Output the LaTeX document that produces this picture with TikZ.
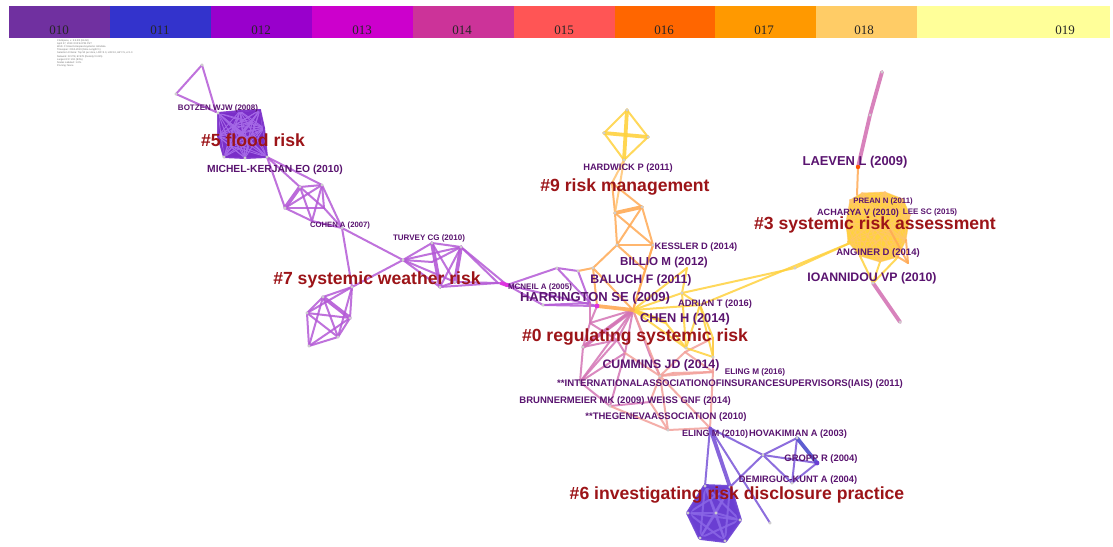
\documentclass[tikz,border=0pt]{standalone}
\usepackage{fontspec}
\setmainfont{Liberation Serif}
\newfontfamily\labfont{Liberation Sans}
\definecolor{c010}{HTML}{7030A0}
\definecolor{c011}{HTML}{3333CC}
\definecolor{c012}{HTML}{9900CC}
\definecolor{c013}{HTML}{CC00CC}
\definecolor{c014}{HTML}{CC3399}
\definecolor{c015}{HTML}{FF5555}
\definecolor{c016}{HTML}{FF6600}
\definecolor{c017}{HTML}{FF9900}
\definecolor{c018}{HTML}{FFCC66}
\definecolor{c019}{HTML}{FFFF99}
\definecolor{authC}{HTML}{5A1470}
\definecolor{clusC}{HTML}{9C1418}
\definecolor{fFill}{HTML}{7A2EC8}
\definecolor{fLine}{HTML}{A468E6}
\definecolor{lavC}{HTML}{B45AD6}
\definecolor{hexFill}{HTML}{6A3ED2}
\definecolor{hexLine}{HTML}{8A66E6}
\definecolor{bluC}{HTML}{4C4CCC}
\definecolor{bpC}{HTML}{7A55D8}
\definecolor{pinkC}{HTML}{D475B5}
\definecolor{salC}{HTML}{F3A09A}
\definecolor{orC}{HTML}{FFAA55}
\definecolor{ltorC}{HTML}{FFC472}
\definecolor{yelC}{HTML}{FFD23F}
\definecolor{magC}{HTML}{E030E0}
\tikzset{
  alab/.style={font={\labfont\bfseries\fontsize{#1}{#1}\selectfont}, text=authC, inner sep=0pt},
  clab/.style={font={\labfont\bfseries\fontsize{17.6}{18}\selectfont}, text=clusC, inner sep=0pt},
  legtxt/.style={font={\fontsize{13}{13}\selectfont}, text=black!85, inner sep=0pt},
  edge/.style={draw=#1, line width=2pt, line cap=round, opacity=0.85},
  thk/.style={draw=#1, line width=3.8pt, line cap=round, opacity=0.9},
  thn/.style={draw=#1, line width=0.9pt, line cap=round},
  vtx/.style={circle, draw=#1, fill=white, line width=0.5pt, inner sep=0pt, minimum size=2.6pt}
}
\begin{document}
\begin{tikzpicture}[x=1pt, y=-1pt]
\fill[white] (0,0) rectangle (1113,546);
\useasboundingbox (0,0) rectangle (1113,546);

% ---------------- legend bar ----------------
\foreach \n/\xa/\xb/\lx in {010/9/110/59, 011/110/211/160, 012/211/312/261, 013/312/413/362, 014/413/514/462, 015/514/615/564, 016/615/715/664, 017/715/816/764, 018/816/917/864, 019/917/1110/1065}{
  \fill[c\n] (\xa,5.5) rectangle (\xb,37.5);
  \node[legtxt] (leg\n) at (\lx,30) {\n};
}

% ---------------- header text ----------------
\node[anchor=north west, align=left, inner sep=0pt, text=black!55,
      font={\labfont\fontsize{2.5}{3.2}\selectfont}] (hdr) at (57,39) {CiteSpace, v. 5.5.R2 (64-bit)\\
April 27, 2019 3:02:54 PM CST\\
WoS: C:\textbackslash Users\textbackslash citespace\textbackslash systemic risk\textbackslash data\\
Timespan: 2010-2019 (Slice Length=1)\\
Selection Criteria: Top 50 per slice, LRF=3.0, L/N=10, LBY=5, e=1.0\\
Network: N=278, E=578 (Density=0.015)\\
Largest CC: 261 (93\%)\\
Nodes Labeled: 1.0\%\\
Pruning: None};

% ---------------- coordinates ----------------
% flood cluster
\coordinate (t1) at (202,65);
\coordinate (t2) at (176,94);
\coordinate (t3) at (216,112);
\coordinate (s1) at (218,113);
\coordinate (s2) at (240,111);
\coordinate (s3) at (260,110);
\coordinate (s4) at (264,128);
\coordinate (s5) at (267,157);
\coordinate (s6) at (245,158);
\coordinate (s7) at (224,157);
\coordinate (s8) at (218,136);
\coordinate (s9) at (233,126);
\coordinate (s10) at (252,122);
\coordinate (s11) at (248,144);
\coordinate (s12) at (230,146);
\coordinate (s13) at (243,133);
% middle chain
\coordinate (m1) at (300,187);
\coordinate (m2) at (322,185);
\coordinate (m3) at (285,208);
\coordinate (m4) at (312,221);
\coordinate (m5) at (324,208);
\coordinate (co) at (342,228);
% turvey cluster
\coordinate (tv1) at (403,260);
\coordinate (tv2) at (432,243);
\coordinate (tv3) at (461,247);
\coordinate (tv4) at (440,287);
\coordinate (tv5) at (455,282);
\coordinate (tv6) at (498,283);
\coordinate (tv7) at (432,262);
% lower-left cluster
\coordinate (w1) at (352,287);
\coordinate (w2) at (323,297);
\coordinate (w3) at (307,313);
\coordinate (w4) at (350,318);
\coordinate (w5) at (338,337);
\coordinate (w6) at (309,346);
% centre
\coordinate (mc) at (507,285);
\coordinate (c1) at (557,268);
\coordinate (c2) at (578,271);
\coordinate (c3) at (543,305);
\coordinate (c4) at (590,303);
\coordinate (h) at (597,306);
\coordinate (hub) at (633,310);
% orange tower
\coordinate (ot0) at (612,183);
\coordinate (ot1) at (615,213);
\coordinate (ot2) at (642,207);
\coordinate (ot3) at (617,245);
\coordinate (ot4) at (653,245);
\coordinate (ot5) at (593,268);
\coordinate (ot6) at (645,270);
% diamond
\coordinate (d1) at (627,110);
\coordinate (d2) at (604,133);
\coordinate (d3) at (648,137);
\coordinate (d4) at (624,160);
% yellow core
\coordinate (y1) at (682,293);
\coordinate (y2) at (700,305);
\coordinate (y3) at (686,348);
\coordinate (y4) at (713,357);
\coordinate (y5) at (665,322);
\coordinate (y6) at (687,268);
% right cluster
\coordinate (r1) at (882,72);
\coordinate (r2) at (870,115);
\coordinate (r3) at (858,167);
\coordinate (r4) at (857,195);
\coordinate (r5) at (850,243);
\coordinate (r6) at (873,283);
\coordinate (r7) at (900,322);
\coordinate (r8) at (908,263);
\coordinate (r9) at (795,268);
\coordinate (b1) at (850,200);
\coordinate (b2) at (862,193);
\coordinate (b3) at (885,192);
\coordinate (b4) at (903,199);
\coordinate (b5) at (910,215);
\coordinate (b6) at (906,240);
\coordinate (b7) at (898,257);
\coordinate (b8) at (880,262);
\coordinate (b9) at (860,256);
\coordinate (b10) at (848,242);
\coordinate (b11) at (846,222);
\coordinate (b12) at (872,225);
\coordinate (b13) at (890,230);
% pink / salmon
\coordinate (p1) at (583,347);
\coordinate (p2) at (590,323);
\coordinate (p3) at (617,340);
\coordinate (p4) at (580,382);
\coordinate (p5) at (610,406);
\coordinate (p6) at (650,402);
\coordinate (p7) at (673,373);
\coordinate (p8) at (713,372);
\coordinate (p9) at (625,353);
\coordinate (p10) at (660,376);
\coordinate (p11) at (668,430);
\coordinate (p13) at (650,355);
\coordinate (p14) at (685,352);
\coordinate (p15) at (713,338);
\coordinate (el) at (710,428);
% bottom purple
\coordinate (hv1) at (763,455);
\coordinate (hv2) at (797,438);
\coordinate (hv3) at (817,463);
\coordinate (hv4) at (792,483);
\coordinate (eend) at (770,523);
\coordinate (hx1) at (705,486);
\coordinate (hx2) at (730,487);
\coordinate (hx3) at (740,520);
\coordinate (hx4) at (725,541);
\coordinate (hx5) at (700,538);
\coordinate (hx6) at (688,513);
\coordinate (hx7) at (716,513);

% ---------------- edges ----------------
% flood triangle and links
\foreach \a/\b in {t1/t2, t1/t3, t2/t3}{\draw[edge=lavC] (\a) -- (\b);}
% flood square
\fill[fFill] (s1) -- (s2) -- (s3) -- (s4) -- (s5) -- (s6) -- (s7) -- (s8) -- cycle;
\foreach \a in {1,...,13}{\foreach \b in {1,...,13}{\ifnum\a<\b \draw[thn=fLine] (s\a) -- (s\b);\fi}}
\foreach \a/\b in {s1/s2, s2/s3, s3/s4, s4/s5, s5/s6, s6/s7, s7/s8, s8/s1}{\draw[edge=fFill] (\a) -- (\b);}
% middle chain
\foreach \a/\b in {s5/m1, s5/m2, s5/m3, m1/m2, m2/m3, m3/m4, m1/m4, m2/m5, m2/m4, m3/m5, m1/m5, m2/co, m5/co, m4/co, co/tv1, co/w1, tv1/w1}{\draw[edge=lavC] (\a) -- (\b);}
\draw[thk=lavC] (m1) -- (m3);
% turvey cluster
\foreach \a/\b in {tv1/tv2, tv1/tv3, tv1/tv4, tv1/tv5, tv2/tv3, tv2/tv5, tv3/tv4, tv3/tv6, tv4/tv5, tv5/tv6, tv4/tv6, tv1/tv7, tv7/tv3, tv6/mc, tv3/mc}{\draw[edge=lavC] (\a) -- (\b);}
\draw[thk=lavC] (tv2) -- (tv4);
\draw[thk=lavC] (tv3) -- (tv5);
% lower-left cluster
\foreach \a/\b in {w1/w2, w1/w3, w1/w4, w1/w5, w2/w3, w2/w5, w3/w4, w3/w5, w3/w6, w4/w5, w4/w6, w5/w6, w2/w6}{\draw[edge=lavC] (\a) -- (\b);}
\draw[thk=lavC] (w2) -- (w4);
% centre lavender
\foreach \a/\b in {mc/c1, mc/c3, c1/c2, c1/c4, c2/c4, c3/h, mc/h, c3/c4}{\draw[edge=lavC] (\a) -- (\b);}
\draw[thk=magC] (mc) -- ++(-6,-2);
% pink
\foreach \a/\b in {hub/p1, hub/p2, hub/p3, hub/p9, hub/p13, p2/p1, p1/p4, p4/p5, p5/p6, p1/p3, p3/p9, p9/p4, h/p2, c4/p2, p2/p3, p4/p3, p5/p9, hub/p4, p13/p10}{\draw[edge=pinkC] (\a) -- (\b);}
\draw[thk=pinkC] (hub) -- (p1);
% salmon
\foreach \a/\b in {hub/p10, p10/p8, p10/p11, p10/el, p10/p6, p10/p14, p14/p8, p8/el, p11/el, p6/p11, p7/p10, p7/p8, p15/p8, p15/p14, p5/p11, p9/p10}{\draw[edge=salC] (\a) -- (\b);}
% orange tower
\foreach \a/\b in {ot0/ot1, ot0/ot2, ot1/ot3, ot1/ot4, ot2/ot3, ot2/ot4, ot3/ot4, ot3/ot5, ot4/ot6, ot3/ot6, ot5/hub, ot5/h, ot6/hub, ot4/hub, c2/ot5}{\draw[edge=orC] (\a) -- (\b);}
\draw[thk=orC] (ot1) -- (ot2);
\draw[thk=orC] (h) -- (hub);
\draw[edge=ltorC] (d4) -- (ot0);
\draw[edge=ltorC] (d4) -- (ot1);
% diamond
\foreach \a/\b in {d1/d2, d1/d3, d2/d4, d3/d4}{\draw[edge=yelC] (\a) -- (\b);}
\draw[thk=yelC] (d2) -- (d3);
\draw[thk=yelC] (d1) -- (d4);
% yellow core
\foreach \a/\b in {hub/y1, hub/y2, y1/y2, hub/y3, y2/y4, y3/y4, y1/y3, hub/y5, y5/y3, y2/y3, y6/y1, y6/hub, y2/r5, y1/r9, r9/r5, y2/p15, y4/p15}{\draw[edge=yelC] (\a) -- (\b);}
\draw[thk=yelC] (hub) -- (y5);
% right cluster
\fill[yelC] (b1) -- (b2) -- (b3) -- (b4) -- (b5) -- (b6) -- (b7) -- (b8) -- (b9) -- (b10) -- (b11) -- cycle;
\foreach \a in {1,...,13}{\foreach \b in {1,...,13}{\ifnum\a<\b \draw[thn=ltorC, opacity=0.55] (b\a) -- (b\b);\fi}}
\draw[thk=pinkC] (r1) -- (r2);
\draw[thk=pinkC] (r2) -- (r3);
\draw[thk=pinkC] (r6) -- (r7);
\draw[edge=orC] (r3) -- (r4);
\foreach \a/\b in {b8/r6, b9/r6, b7/r6, b10/r5, b11/r5}{\draw[edge=yelC] (\a) -- (\b);}
\foreach \a/\b in {b6/r8, b7/r8, b13/r8}{\draw[edge=orC] (\a) -- (\b);}
% bottom purple
\fill[hexFill] (hx1) -- (hx2) -- (hx3) -- (hx4) -- (hx5) -- (hx6) -- cycle;
\foreach \a in {1,...,7}{\foreach \b in {1,...,7}{\ifnum\a<\b \draw[edge=hexLine] (hx\a) -- (hx\b);\fi}}
\foreach \a/\b in {hx1/hx2, hx2/hx3, hx3/hx4, hx4/hx5, hx5/hx6, hx6/hx1}{\draw[thk=hexFill] (\a) -- (\b);}
\foreach \a/\b in {el/hx1, el/eend, el/hv1, hv1/hv2, hv1/hv3, hv1/hv4, hv2/hv4, hv3/hv4, hv1/hx2}{\draw[edge=bpC] (\a) -- (\b);}
\draw[thk=bpC] (el) -- (hx2);
\draw[thk=bluC] (hv2) -- (hv3);

% vertex markers
\foreach \v in {t1,t2,s1,s5,s6,s7,m1,m2,m3,co,tv1,tv2,tv3,tv4,tv5,w1,w2,w3,w4,w5,w6,c1,c2,c3,d1,d2,d3,d4,ot1,ot2,ot3,ot4,ot5,y1,y2,y3,y4,r1,r2,r6,r7,r9,p1,p4,p5,p6,p10,p11,hv1,hv2,hv4,hx1,hx2,hx3,hx4,hx5,hx6,hx7,eend}{
  \node[vtx=black!25] at (\v) {};
}
\fill[magC] (h) circle (2.4pt);
\fill[magC] (mc) circle (2.2pt);
\fill[c016!80!red] (r3) circle (2.2pt);
\fill[hexFill] (hv3) circle (2.4pt);
\fill[orC] (hub) circle (2pt);

% ---------------- labels ----------------
\node[alab=8] (lBotzen) at (218,108) {BOTZEN WJW (2008)};
\node[clab] (l5) at (253,140) {\#5 flood risk};
\node[alab=10.3] (lMichel) at (275,170) {MICHEL-KERJAN EO (2010)};
\node[alab=7.7] (lCohen) at (340,226) {COHEN A (2007)};
\node[alab=8] (lTurvey) at (429,238) {TURVEY CG (2010)};
\node[clab] (l7) at (377,280) {\#7 systemic weather risk};
\node[alab=9.3] (lHard) at (628,168) {HARDWICK P (2011)};
\node[clab] (l9) at (625,187) {\#9 risk management};
\node[alab=12.9] (lLaeven) at (855,162) {LAEVEN L (2009)};
\node[alab=7.8] (lPrean) at (883,201) {PREAN N (2011)};
\node[alab=9.1] (lAcharya) at (858,213) {ACHARYA V (2010)};
\node[alab=8] (lLee) at (930,212.5) {LEE SC (2015)};
\node[clab] (l3) at (875,225) {\#3 systemic risk assessment};
\node[alab=9.5] (lAnginer) at (878,253) {ANGINER D (2014)};
\node[alab=12.3] (lIoann) at (872,278) {IOANNIDOU VP (2010)};
\node[alab=9.3] (lKessler) at (696,247) {KESSLER D (2014)};
\node[alab=11.6] (lBillio) at (664,262) {BILLIO M (2012)};
\node[alab=12.3] (lBaluch) at (641,280) {BALUCH F (2011)};
\node[alab=8] (lMcneil) at (540,287) {MCNEIL A (2005)};
\node[alab=13] (lHarr) at (595,298) {HARRINGTON SE (2009)};
\node[alab=9.3] (lAdrian) at (715,304) {ADRIAN T (2016)};
\node[alab=12.8] (lChen) at (685,319) {CHEN H (2014)};
\node[clab] (l0) at (635,337) {\#0 regulating systemic risk};
\node[alab=12.3] (lCummins) at (661,365) {CUMMINS JD (2014)};
\node[alab=8.2] (lEling16) at (755,372) {ELING M (2016)};
\node[alab=9.6] (lIais) at (730,384) {**INTERNATIONALASSOCIATIONOFINSURANCESUPERVISORS(IAIS) (2011)};
\node[alab=9.5] (lBrunn) at (582,401) {BRUNNERMEIER MK (2009)};
\node[alab=9.5] (lWeiss) at (689,401) {WEISS GNF (2014)};
\node[alab=9.5] (lGeneva) at (666,417) {**THEGENEVAASSOCIATION (2010)};
\node[alab=9] (lEling10) at (715,434) {ELING M (2010)};
\node[alab=9.3] (lHova) at (798,434) {HOVAKIMIAN A (2003)};
\node[alab=9.4] (lGropp) at (821,459) {GROPP R (2004)};
\node[alab=9.3] (lDemir) at (798,480) {DEMIRGUC-KUNT A (2004)};
\node[clab] (l6) at (737,495) {\#6 investigating risk disclosure practice};
\end{tikzpicture}
\end{document}
